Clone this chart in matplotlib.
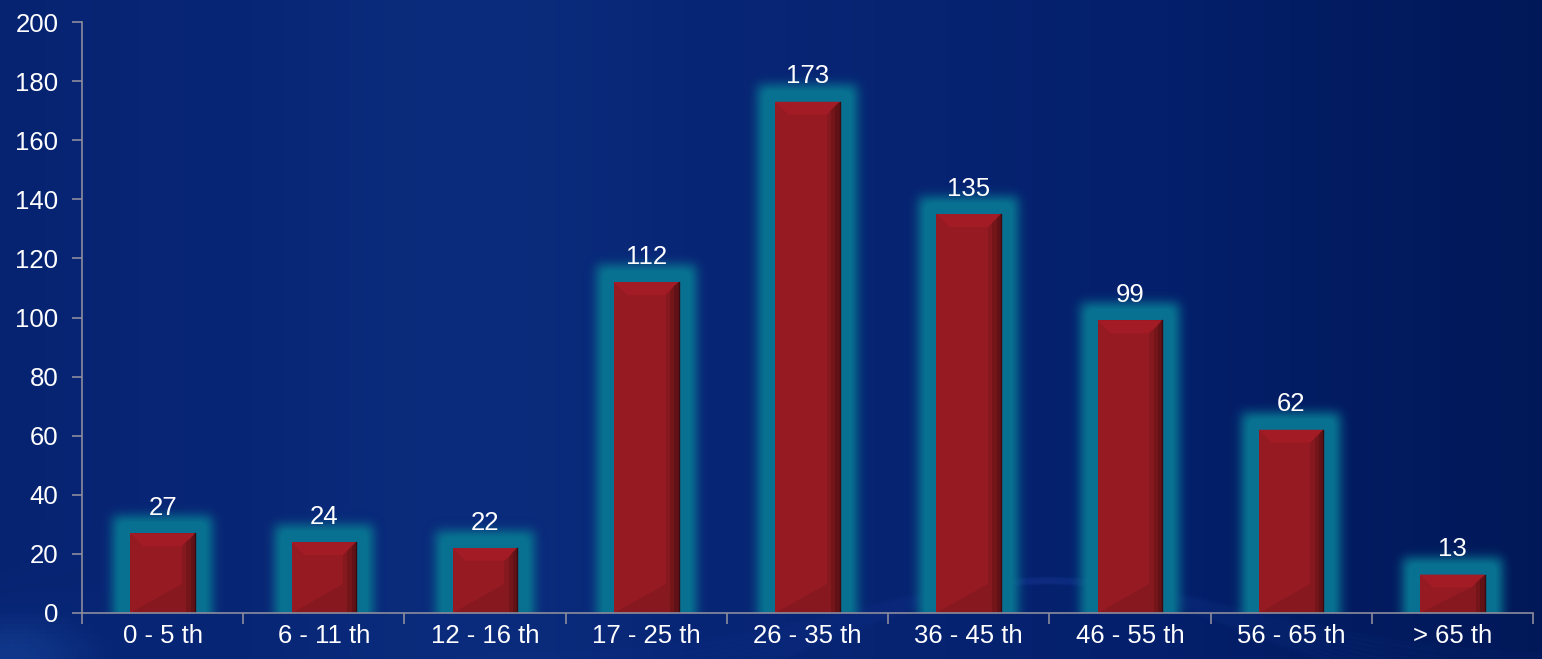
import numpy as np
import matplotlib
matplotlib.use("Agg")
import matplotlib.pyplot as plt
from matplotlib.patches import Polygon
from matplotlib.colors import LinearSegmentedColormap

categories = ["0 - 5 th", "6 - 11 th", "12 - 16 th", "17 - 25 th", "26 - 35 th",
              "36 - 45 th", "46 - 55 th", "56 - 65 th", "> 65 th"]
values = [27, 24, 22, 112, 173, 135, 99, 62, 13]
yticks = [0, 20, 40, 60, 80, 100, 120, 140, 160, 180, 200]

plt.rcParams['font.family'] = ['Liberation Sans', 'DejaVu Sans']

W, H = 1542, 659
fig = plt.figure(figsize=(W / 100, H / 100), dpi=100)

# background gradient
bg = fig.add_axes([0, 0, 1, 1])
bg.set_axis_off()
gx = np.linspace(0, 1, 300)
gy = np.linspace(0, 1, 130)
X, Y = np.meshgrid(gx, gy)
field = 0.75 * np.exp(-((X - 0.33) / 0.5) ** 2) + 0.15 * (1 - X) \
    + 0.35 * np.exp(-((X) / 0.06) ** 2 - ((Y) / 0.08) ** 2)
cmap_bg = LinearSegmentedColormap.from_list("bg", ["#001550", "#04206c", "#082676", "#1a4aa0"])
bg.imshow(field, cmap=cmap_bg, aspect='auto', extent=[0, 1, 0, 1], origin='lower', vmin=0, vmax=1.2)
# faint light streaks at bottom
xs = np.linspace(0.3, 1, 400)
for k in range(8):
    yy = 0.0 + 0.12 * np.exp(-((xs - 0.68) / 0.18) ** 2) * (1 + 0.08 * k) - 0.01 * k
    bg.plot(xs, yy, color="#2a5ac0", alpha=0.035, lw=5)
bg.set_xlim(0, 1)
bg.set_ylim(0, 1)

left, right, bottom, top = 82, 1533, 613, 22
ax = fig.add_axes([left / W, 1 - bottom / H, (right - left) / W, (bottom - top) / H])
ax.patch.set_alpha(0)

n = len(categories)
x = np.arange(n)
bw = 0.4
ax.set_xlim(-0.5, n - 0.5)
ax.set_ylim(0, 200)

aw, ah = right - left, bottom - top
px_x = aw / n      # pixels per x unit
px_y = ah / 200    # pixels per y unit

# glow image in axes pixel space
mask = np.zeros((ah, aw))
grow = 17
for i, v in enumerate(values):
    c0 = int(round((x[i] - bw / 2 + 0.5) * px_x)) - grow
    c1 = int(round((x[i] + bw / 2 + 0.5) * px_x)) + grow
    r1 = int(round(v * px_y)) + grow
    mask[max(0, ah - r1):, max(0, c0):min(aw, c1)] = 1.0
k = np.arange(-18, 19)
ker = np.exp(-k ** 2 / (2 * 5.5 ** 2))
ker /= ker.sum()
pad = 25
m = np.pad(mask, pad, mode='edge')
m = np.apply_along_axis(lambda r: np.convolve(r, ker, mode='same'), 1, m)
m = np.apply_along_axis(lambda c: np.convolve(c, ker, mode='same'), 0, m)
m = m[pad:-pad, pad:-pad]
glow = np.zeros((ah, aw, 4))
glow[..., 0] = 0x08 / 255
glow[..., 1] = 0x70 / 255
glow[..., 2] = 0x90 / 255
glow[..., 3] = np.clip(m * 1.15, 0, 1)
ax.imshow(glow, extent=[-0.5, n - 0.5, 0, 200], aspect='auto', zorder=1, interpolation='bilinear')

bars = ax.bar(x, values, width=bw, color="#961a22", zorder=3, lw=0)

# bevel shading
dx = 13 / px_x
dy = 13 / px_y
for b in bars:
    x0, x1 = b.get_x(), b.get_x() + b.get_width()
    y1 = b.get_height()
    d_y = min(dy, y1 / 3)
    ax.add_patch(Polygon([(x0, y1), (x1, y1), (x1 - dx, y1 - d_y), (x0 + dx, y1 - d_y)],
                         closed=True, fc="#a31b24", lw=0, zorder=4))
    for j, col in enumerate(["#861820", "#741519", "#611216"]):
        f0 = dx * (1 - j / 3)
        f1 = dx * (1 - (j + 1) / 3)
        ax.add_patch(Polygon([(x1 - f1, y1 - d_y * f1 / dx), (x1 - f1, 0), (x1 - f0, 0), (x1 - f0, y1 - d_y * f0 / dx)],
                             closed=True, fc=col, lw=0, zorder=4))
    ax.add_patch(Polygon([(x0, 0), (x1 - dx, 0), (x1 - dx, min(y1 - d_y, 2.2 * d_y))],
                         closed=True, fc="#881820", lw=0, zorder=4))
    ax.plot([x1, x1], [0, y1], color="#3a0a10", lw=1, zorder=4)
    ax.text(b.get_x() + b.get_width() / 2, y1 + 4.5, str(int(y1)), ha='center', va='bottom',
            color='white', fontsize=18.5, zorder=5)

spine_c = "#8c8c9c"
for s in ['top', 'right']:
    ax.spines[s].set_visible(False)
for s in ['left', 'bottom']:
    ax.spines[s].set_color(spine_c)
    ax.spines[s].set_linewidth(1.2)
    ax.spines[s].set_zorder(6)

ax.set_yticks(yticks)
ax.set_yticklabels([str(t) for t in yticks])
ax.set_xticks(x)
ax.set_xticklabels(categories)
ax.set_xticks(np.arange(-0.5, n, 1), minor=True)
ax.tick_params(axis='x', which='major', length=0, pad=8, labelsize=18.5, labelcolor='white')
ax.tick_params(axis='x', which='minor', length=8, color=spine_c, width=1.2, direction='out')
ax.tick_params(axis='y', length=7, color=spine_c, width=1.2, labelsize=18.5, labelcolor='white', pad=10)

fig.savefig("out.png", dpi=100)
